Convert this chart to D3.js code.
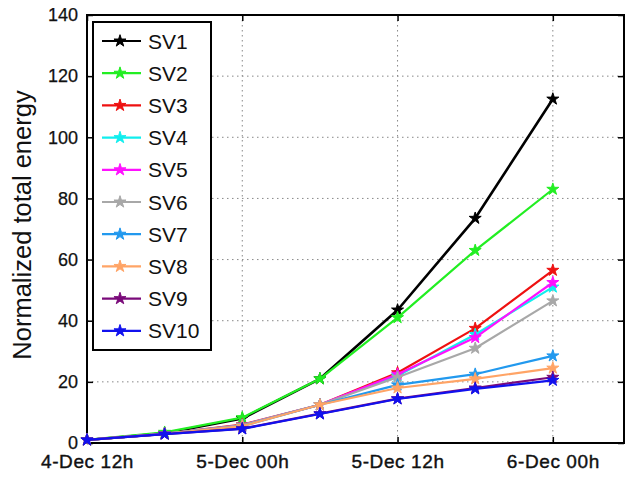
<!DOCTYPE html>
<html><head><meta charset="utf-8">
<script src="https://cdn.jsdelivr.net/npm/d3@7"></script>
<style>
html,body{margin:0;padding:0;background:#fff;}
svg{display:block;font-family:"Liberation Sans",Arial,Helvetica,sans-serif;}
</style></head>
<body><svg id="c" width="625" height="479"></svg>
<script>
// data (hours since 4-Dec 12h)
const times = [0, 6, 12, 18, 24, 30, 36];
const xTickValues = [0, 12, 24, 36];
const xTickLabels = ["4-Dec 12h", "5-Dec 00h", "5-Dec 12h", "6-Dec 00h"];
const yTickValues = [0, 20, 40, 60, 80, 100, 120, 140];
const seriesNames = ["SV1","SV2","SV3","SV4","SV5","SV6","SV7","SV8","SV9","SV10"];
const SV1  = [1, 3.2, 8.0, 21.0, 43.5, 73.5, 112.5];
const SV2  = [1, 3.5, 8.3, 21.0, 41.0, 63.0, 83.0];
const SV3  = [1, 3.0, 6.0, 12.5, 23.0, 37.5, 56.5];
const SV4  = [1, 3.0, 5.8, 12.5, 22.0, 35.5, 51.0];
const SV5  = [1, 3.0, 5.8, 12.5, 22.5, 34.5, 52.5];
const SV6  = [1, 3.0, 5.8, 12.5, 21.5, 31.0, 46.5];
const SV7  = [1, 3.0, 5.5, 12.5, 19.0, 22.5, 28.5];
const SV8  = [1, 3.0, 5.5, 12.5, 18.0, 21.0, 24.5];
const SV9  = [1, 2.9, 4.7, 9.6, 14.5, 18.0, 21.5];
const SV10 = [1, 2.9, 4.6, 9.5, 14.4, 17.7, 20.5];
const seriesValues = [SV1, SV2, SV3, SV4, SV5, SV6, SV7, SV8, SV9, SV10];
const colors = ["#000000","#22ee22","#ee1111","#11eeee","#ff11ff","#a8a8a8","#2299ee","#ffa466","#7a0a7a","#1111ee"];

const svg = d3.select("#c");
const L = 87, R = 624, T = 15, B = 443;
const x = d3.scaleLinear().domain([0, 41.5]).range([L, R]);
const y = d3.scaleLinear().domain([0, 140]).range([B, T]);

// grid
const grid = svg.append("g").attr("stroke", "#888").attr("stroke-width", 1).attr("stroke-dasharray", "1.5,3.5");
grid.selectAll(".gx").data(xTickValues.slice(1)).enter().append("line")
  .attr("x1", d => x(d)).attr("x2", d => x(d)).attr("y1", T).attr("y2", B);
grid.selectAll(".gy").data(yTickValues.slice(1, -1)).enter().append("line")
  .attr("y1", d => y(d)).attr("y2", d => y(d)).attr("x1", L).attr("x2", R);

// axes
const xAxis = d3.axisBottom(x).tickValues(xTickValues).tickFormat((d, i) => xTickLabels[i]).tickSizeInner(-6).tickSizeOuter(0).tickPadding(12);
const gx = svg.append("g").attr("transform", `translate(0,${B})`).call(xAxis);
gx.select(".domain").remove();
gx.selectAll("line").attr("stroke", "#000").attr("stroke-width", 1.5);
gx.selectAll("text").attr("font-size", 19).attr("letter-spacing", 0.6).attr("fill", "#111")
  .attr("stroke", "#111").attr("stroke-width", 0.4);

const yAxis = d3.axisLeft(y).tickValues(yTickValues).tickSizeInner(-6).tickSizeOuter(0).tickPadding(9);
const gy = svg.append("g").attr("transform", `translate(${L},0)`).call(yAxis);
gy.select(".domain").remove();
gy.selectAll("line").attr("stroke", "#000").attr("stroke-width", 1.5);
gy.selectAll("text").attr("font-size", 18).attr("fill", "#111").attr("stroke", "#111").attr("stroke-width", 0.25);

// top/right ticks
const gt = svg.append("g").attr("transform", `translate(0,${T})`).call(d3.axisTop(x).tickValues(xTickValues).tickSizeInner(-6).tickSizeOuter(0).tickFormat(""));
gt.select(".domain").remove();
gt.selectAll("line").attr("stroke", "#000").attr("stroke-width", 1.5);
const gr = svg.append("g").attr("transform", `translate(${R},0)`).call(d3.axisRight(y).tickValues(yTickValues).tickSizeInner(-6).tickSizeOuter(0).tickFormat(""));
gr.select(".domain").remove();
gr.selectAll("line").attr("stroke", "#000").attr("stroke-width", 1.5);

svg.append("rect").attr("x", L).attr("y", T).attr("width", R - L).attr("height", B - T)
  .attr("fill", "none").attr("stroke", "#000").attr("stroke-width", 2);

// y label
svg.append("text").attr("transform", `translate(31,${(T + B) / 2 - 4}) rotate(-90)`)
  .attr("text-anchor", "middle").attr("font-size", 25.5).attr("fill", "#111").text("Normalized total energy");

// lines
const line = d3.line().x((d, i) => x(times[i])).y(d => y(d));
const star = d3.symbol().type(d3.symbolStar).size(45);
const sg = svg.append("g");
seriesValues.forEach((vals, k) => {
  const g = sg.append("g");
  g.append("path").attr("d", line(vals)).attr("fill", "none").attr("stroke", colors[k])
    .attr("stroke-width", k === 0 ? 2.6 : 2.2).attr("stroke-linejoin", "round");
  g.selectAll("path.m").data(vals).enter().append("path").attr("class", "m")
    .attr("transform", (d, i) => `translate(${x(times[i])},${y(d)})`)
    .attr("d", star).attr("fill", colors[k]).attr("stroke", colors[k]).attr("stroke-width", 1);
});

// legend
const lg = svg.append("g");
lg.append("rect").attr("x", 93).attr("y", 22).attr("width", 118).attr("height", 328)
  .attr("fill", "#fff").attr("stroke", "#000").attr("stroke-width", 2);
seriesNames.forEach((n, k) => {
  const yy = 41 + k * 32.2;
  lg.append("line").attr("x1", 102).attr("x2", 141).attr("y1", yy).attr("y2", yy)
    .attr("stroke", colors[k]).attr("stroke-width", 2.2);
  lg.append("path").attr("transform", `translate(120,${yy})`).attr("d", star)
    .attr("fill", colors[k]).attr("stroke", colors[k]).attr("stroke-width", 1);
  lg.append("text").attr("x", 148).attr("y", yy + 7.5).attr("font-size", 21).attr("fill", "#111").text(n);
});
</script></body></html>
